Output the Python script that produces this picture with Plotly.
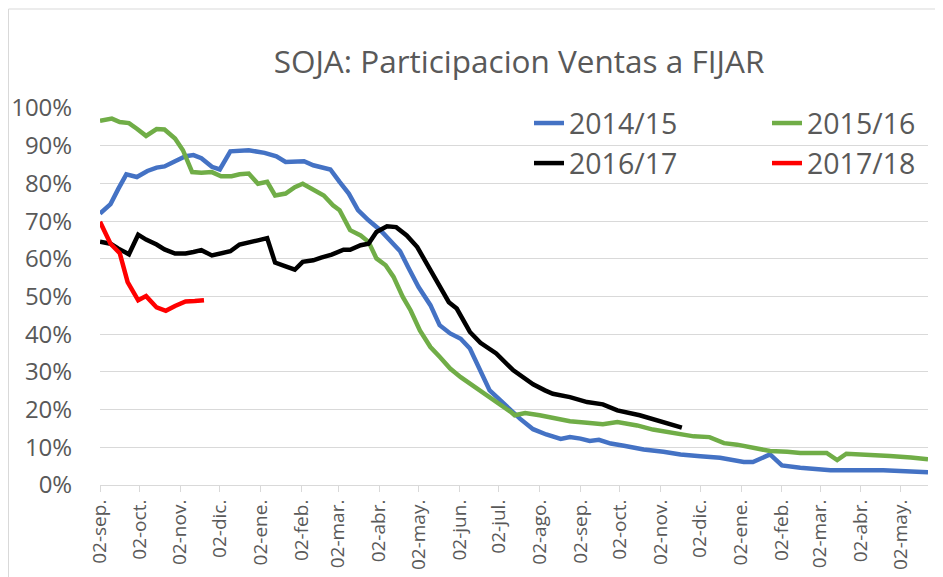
import pandas as pd
import plotly.graph_objects as go

BASE = pd.Timestamp("2014-09-02")

# day offsets from 02-sep, values in %
days_1415 = [0, 8, 14, 20, 28, 36, 43, 49, 57, 65, 71, 77, 85, 91, 99, 113, 125, 134, 141, 155,
             162, 175, 182, 189, 196, 204, 213, 220, 228, 234, 242, 251, 258, 266, 274, 281, 289,
             296, 304, 312, 319, 329, 339, 350, 357, 365, 372, 379, 388, 398, 413, 428, 441, 456,
             471, 489, 496, 509, 518, 532, 555, 578, 595, 629]
vals_1415 = [72.0, 74.5, 78.6, 82.4, 81.7, 83.3, 84.2, 84.5, 85.9, 87.2, 87.5, 86.7, 84.4, 83.7,
             88.5, 88.8, 88.1, 87.2, 85.7, 85.9, 84.8, 83.7, 80.4, 77.3, 72.9, 70.2, 67.6, 64.9,
             62.0, 57.8, 52.5, 47.7, 42.4, 40.2, 38.8, 36.2, 30.0, 25.1, 22.5, 19.8, 17.6, 14.8,
             13.4, 12.2, 12.7, 12.3, 11.7, 12.0, 11.0, 10.4, 9.4, 8.8, 8.1, 7.6, 7.2, 6.1, 6.1,
             8.1, 5.2, 4.6, 3.9, 3.9, 3.9, 3.4]

days_1516 = [0, 9, 15, 22, 28, 35, 43, 49, 57, 63, 70, 77, 85, 92, 100, 106, 113, 120, 127, 133,
             141, 148, 154, 162, 170, 177, 182, 190, 198, 204, 210, 217, 223, 230, 236, 243, 251,
             258, 266, 274, 281, 289, 296, 304, 312, 315, 323, 334, 345, 357, 370, 382, 393, 408,
             420, 436, 451, 463, 474, 484, 494, 509, 522, 532, 552, 560, 567, 583, 600, 616, 629]
vals_1516 = [96.6, 97.2, 96.3, 96.0, 94.5, 92.6, 94.4, 94.3, 91.9, 88.8, 83.0, 82.8, 83.0, 81.9,
             81.9, 82.4, 82.6, 79.9, 80.4, 76.8, 77.3, 79.0, 79.9, 78.2, 76.8, 74.2, 72.9, 67.6,
             66.2, 64.5, 60.1, 58.3, 55.2, 49.9, 46.3, 41.0, 36.6, 34.0, 30.9, 28.6, 26.9, 24.9,
             23.3, 21.6, 19.4, 18.5, 19.1, 18.5, 17.6, 16.9, 16.5, 16.1, 16.7, 15.8, 14.7, 13.8,
             12.9, 12.7, 11.1, 10.7, 9.9, 9.0, 8.8, 8.5, 8.5, 6.6, 8.3, 8.1, 7.7, 7.3, 6.8]

days_1617 = [0, 8, 14, 22, 29, 35, 43, 49, 57, 65, 71, 77, 85, 91, 99, 106, 113, 120, 127, 133,
             141, 148, 154, 162, 168, 176, 185, 190, 198, 204, 210, 218, 225, 233, 241, 248, 256,
             265, 271, 276, 281, 289, 301, 314, 322, 329, 338, 344, 357, 370, 382, 393, 410, 426,
             442]
vals_1617 = [64.5, 64.0, 62.7, 61.2, 66.4, 65.1, 63.8, 62.5, 61.4, 61.4, 61.8, 62.3, 60.9, 61.5,
             62.0, 63.8, 64.2, 64.9, 65.5, 59.0, 58.0, 57.1, 59.2, 59.6, 60.3, 61.1, 62.4, 62.4,
             63.6, 64.0, 67.1, 68.6, 68.4, 66.2, 63.1, 58.7, 53.8, 48.5, 46.8, 43.7, 40.6, 37.7,
             34.9, 30.4, 28.6, 26.7, 25.1, 24.2, 23.3, 22.0, 21.4, 19.8, 18.5, 16.7, 15.2]

days_1718 = [0, 8, 15, 21, 29, 35, 43, 50, 57, 65, 72, 79]
vals_1718 = [69.8, 64.0, 61.5, 53.8, 49.0, 50.1, 47.1, 46.2, 47.5, 48.7, 48.8, 49.0]

tick_days = [0, 30, 61, 91, 122, 153, 181, 212, 242, 273, 303, 334, 365, 395, 426, 456, 487,
             518, 547, 578, 608]
tick_text = ["02-sep.", "02-oct.", "02-nov.", "02-dic.", "02-ene.", "02-feb.", "02-mar.",
             "02-abr.", "02-may.", "02-jun.", "02-jul.", "02-ago.", "02-sep.", "02-oct.",
             "02-nov.", "02-dic.", "02-ene.", "02-feb.", "02-mar.", "02-abr.", "02-may."]

series = [
    ("2014/15", days_1415, vals_1415, "#4472C4", "legend"),
    ("2015/16", days_1516, vals_1516, "#70AD47", "legend2"),
    ("2016/17", days_1617, vals_1617, "#000000", "legend"),
    ("2017/18", days_1718, vals_1718, "#FF0000", "legend2"),
]

def to_dates(d):
    return [BASE + pd.Timedelta(days=int(x)) for x in d]

fig = go.Figure()
for name, d, v, col, lg in series:
    fig.add_trace(go.Scatter(
        x=to_dates(d), y=[x / 100 for x in v], mode="lines", name=name,
        line=dict(color=col, width=4.5), legend=lg, legendgroup=name,
    ))

FONT = "Open Sans"
GREY = "#595959"
L, R, T, B = 92, 23, 100, 100
PW, PH = 943 - L - R, 577 - T - B

fig.update_layout(
    width=943, height=577,
    margin=dict(l=L, r=R, t=T, b=B, autoexpand=False),
    paper_bgcolor="white", plot_bgcolor="white",
    font=dict(family=FONT, color=GREY),
    title=dict(text="SOJA: Participacion Ventas a FIJAR", x=511 / 943, xref="container",
               xanchor="center", y=1 - 54 / 577, yref="container", yanchor="middle",
               font=dict(family=FONT, size=31.5, color=GREY)),
    legend=dict(x=(521 - L) / PW, y=1 + (T - 90) / PH, xanchor="left", yanchor="top",
                orientation="v", font=dict(size=28.5, color=GREY),
                bgcolor="rgba(0,0,0,0)", tracegroupgap=0),
    legend2=dict(x=(759 - L) / PW, y=1 + (T - 90) / PH, xanchor="left", yanchor="top",
                 orientation="v", font=dict(size=28.5, color=GREY),
                 bgcolor="rgba(0,0,0,0)", tracegroupgap=0),
    showlegend=True,
)
fig.update_xaxes(
    type="date",
    range=[BASE, BASE + pd.Timedelta(days=629)],
    tickvals=to_dates(tick_days), ticktext=tick_text, tickangle=-90,
    tickfont=dict(size=19, color=GREY, family=FONT),
    showgrid=False, showline=True, linecolor="#D9D9D9", linewidth=1,
    ticks="outside", ticklen=6, tickcolor="#D9D9D9", zeroline=False,
)
fig.update_yaxes(
    range=[0, 1.0], tickvals=[i / 10 for i in range(11)], tickformat=".0%",
    tickfont=dict(size=24, color=GREY, family=FONT),
    showgrid=True, gridcolor="#D9D9D9", gridwidth=1, zeroline=False,
    showline=False, ticks="outside", ticklen=22, tickcolor="rgba(0,0,0,0)",
)
fig.add_shape(type="rect", xref="paper", yref="paper",
              x0=(0.5 - L) / PW, x1=(960 - L) / PW,
              y0=-(600 - (577 - B)) / PH, y1=1 + (T - 1) / PH,
              line=dict(color="#D9D9D9", width=1), fillcolor="rgba(0,0,0,0)", layer="below")

fig.write_html("out.html")
